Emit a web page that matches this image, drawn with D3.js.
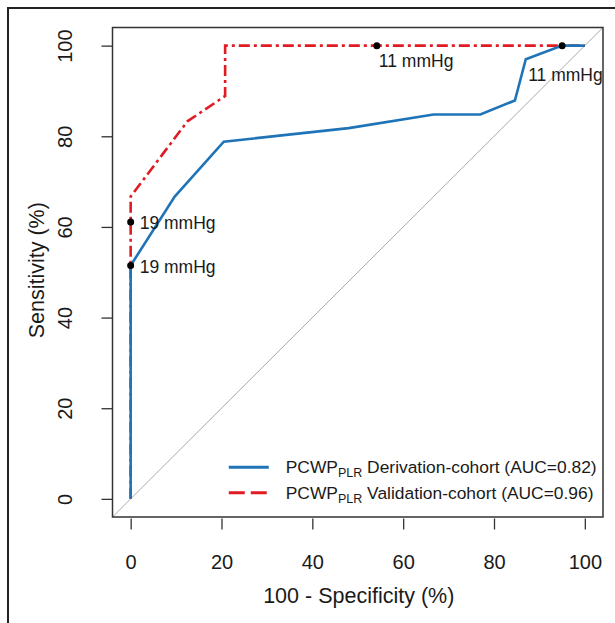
<!DOCTYPE html>
<html>
<head>
<meta charset="utf-8">
<script src="https://cdn.jsdelivr.net/npm/d3@7"></script>
<style>
  body { margin: 0; background: #fff; }
  svg text { font-family: "Liberation Sans", Arial, sans-serif; fill: #1a1a1a; }
</style>
</head>
<body>
<div id="chart"></div>
<script>
// ROC curves (100 - specificity vs sensitivity)
var derivFpr  = [0, 0, 9.7, 20.5, 48, 66.7, 77, 84.6, 87, 95, 100];
var derivSens = [0, 51.5, 66.7, 78.8, 81.8, 84.8, 84.8, 87.9, 97, 100, 100];
var validFpr  = [0, 0, 12.5, 20.8, 20.8, 54.2, 100];
var validSens = [0, 66.7, 83.3, 88.9, 100, 100, 100];

// cut-off points
var cutFpr   = [0, 0, 54.2, 95];
var cutSens  = [61.1, 51.5, 100, 100];
var cutLabel = ["19 mmHg", "19 mmHg", "11 mmHg", "11 mmHg"];
var cutDx    = [9, 9, 2, -34];
var cutDy    = [1, 1, 15, 29];

var ticks = [0, 20, 40, 60, 80, 100];
var seriesNames = ["Derivation-cohort (AUC=0.82)", "Validation-cohort (AUC=0.96)"];
var seriesColors = ["#1f74b8", "#e01b22"];

var svgWidth = 615, svgHeight = 623;
var margin = {top: 27.5, left: 112.5, right: 12, bottom: 106};
var width = svgWidth - margin.left - margin.right;
var height = svgHeight - margin.top - margin.bottom;

var svg = d3.select("#chart").append("svg")
  .attr("width", svgWidth)
  .attr("height", svgHeight);

// outer figure frame (only left and top edges are visible)
svg.append("rect")
  .attr("x", 8).attr("y", 8)
  .attr("width", 640).attr("height", 640)
  .attr("fill", "none")
  .attr("stroke", "#222")
  .attr("stroke-width", 2);

var g = svg.append("g")
  .attr("transform", `translate(${margin.left}, ${margin.top})`);

var x = d3.scaleLinear().domain([-4, 104]).range([0, width]);
var y = d3.scaleLinear().domain([-4, 104]).range([height, 0]);

g.append("clipPath").attr("id", "clip")
  .append("rect").attr("width", width).attr("height", height);

// reference diagonal
g.append("line")
  .attr("clip-path", "url(#clip)")
  .attr("x1", x(-4)).attr("y1", y(-4))
  .attr("x2", x(104)).attr("y2", y(104))
  .attr("stroke", "#aaa")
  .attr("stroke-width", 1);

var line = d3.line().x(d => x(d[0])).y(d => y(d[1]));

g.append("path")
  .datum(d3.zip(validFpr, validSens))
  .attr("d", line)
  .attr("fill", "none")
  .attr("stroke", seriesColors[1])
  .attr("stroke-width", 2.6)
  .attr("stroke-dasharray", "11,4,3,4");

g.append("path")
  .datum(d3.zip(derivFpr, derivSens))
  .attr("d", line)
  .attr("fill", "none")
  .attr("stroke", seriesColors[0])
  .attr("stroke-width", 2.6);

// cut-off points and labels
var cuts = cutFpr.map((v, i) => ({x: v, y: cutSens[i], label: cutLabel[i], dx: cutDx[i], dy: cutDy[i]}));
g.selectAll("circle.cut").data(cuts).enter().append("circle")
  .attr("class", "cut")
  .attr("cx", d => x(d.x)).attr("cy", d => y(d.y))
  .attr("r", 3.5)
  .attr("fill", "#000");
g.selectAll("text.cut").data(cuts).enter().append("text")
  .attr("class", "cut")
  .attr("x", d => x(d.x) + d.dx)
  .attr("y", d => y(d.y) + d.dy)
  .attr("dy", "0.35em")
  .attr("font-size", 17.5)
  .text(d => d.label);

// plot box
g.append("rect")
  .attr("width", width).attr("height", height)
  .attr("fill", "none")
  .attr("stroke", "#333")
  .attr("stroke-width", 1.5);

// x axis (offset a bit below the box, ticks only)
var xAxis = g.append("g")
  .attr("transform", `translate(0, ${height + 1.5})`)
  .call(d3.axisBottom(x).tickValues(ticks).tickSize(11).tickPadding(25));
xAxis.select(".domain").remove();
xAxis.selectAll("text").attr("font-size", 20).attr("fill", "#1a1a1a");
xAxis.selectAll("line").attr("stroke", "#333").attr("stroke-width", 1.3);

// y axis with rotated labels
var yAxis = g.append("g")
  .call(d3.axisLeft(y).tickValues(ticks).tickSize(11).tickPadding(0));
yAxis.select(".domain").remove();
yAxis.selectAll("line").attr("stroke", "#333").attr("stroke-width", 1.3);
yAxis.selectAll("text")
  .attr("font-size", 20)
  .attr("fill", "#1a1a1a")
  .attr("x", 0).attr("dy", 0)
  .attr("text-anchor", "middle")
  .attr("transform", "translate(-40.5, 0) rotate(-90)");

// axis titles
g.append("text")
  .attr("x", width / 2 + 1)
  .attr("y", height + 86)
  .attr("text-anchor", "middle")
  .attr("font-size", 21.5)
  .text("100 - Specificity (%)");

g.append("text")
  .attr("transform", `translate(-69, ${height / 2 - 2}) rotate(-90)`)
  .attr("text-anchor", "middle")
  .attr("font-size", 21.5)
  .text("Sensitivity (%)");

// legend
var legend = g.append("g")
  .attr("transform", `translate(${x(21.6)}, ${y(7)})`);
seriesNames.forEach(function(name, i) {
  var row = legend.append("g").attr("transform", `translate(0, ${i * 25.5})`);
  row.append("line")
    .attr("x1", 0).attr("x2", 40)
    .attr("stroke", seriesColors[i])
    .attr("stroke-width", 3)
    .attr("stroke-dasharray", i === 1 ? "16,6" : null);
  var t = row.append("text")
    .attr("x", 57).attr("dy", "0.35em")
    .attr("font-size", 17.4);
  t.append("tspan").text("PCWP");
  t.append("tspan").attr("font-size", 12.5).attr("dy", 4).text("PLR");
  t.append("tspan").attr("dy", -4).text(" " + name);
});
</script>
</body>
</html>
